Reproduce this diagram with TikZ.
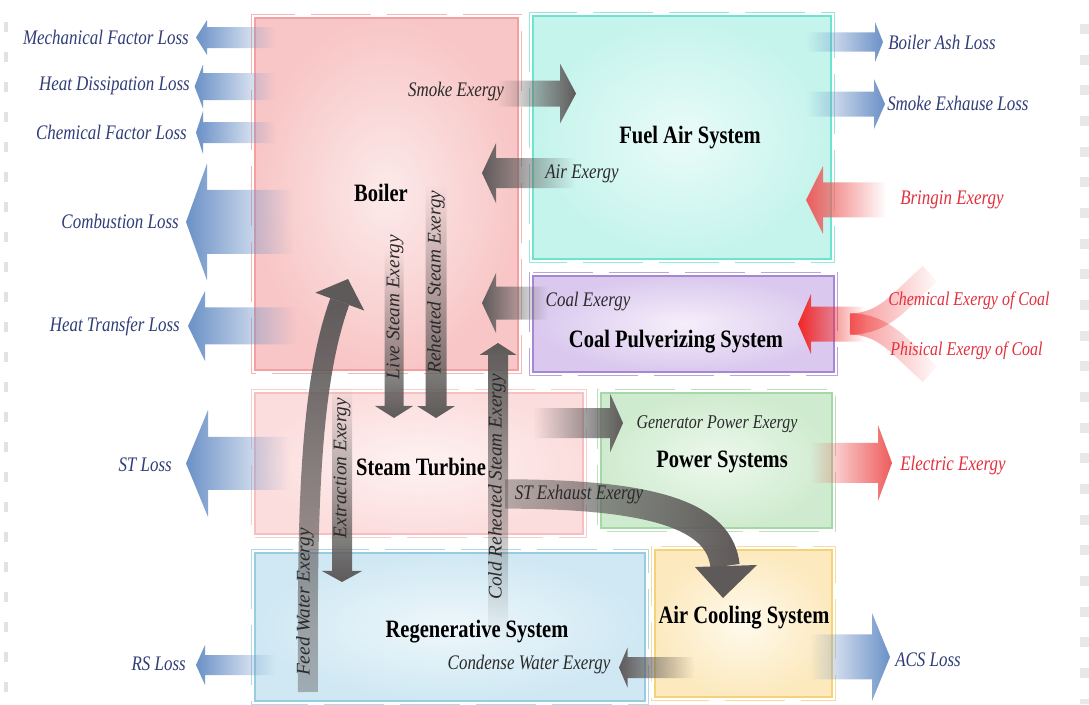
\documentclass[tikz,border=0pt]{standalone}
\usepackage{fontspec}
\setmainfont{Liberation Serif}
\newfontfamily\condserif[FakeStretch=0.82]{Liberation Serif}
\usetikzlibrary{fadings,fit}

\definecolor{lossblue}{HTML}{6B91C7}
\definecolor{losstext}{HTML}{303D78}
\definecolor{redtext}{HTML}{E2303E}
\definecolor{redarr}{HTML}{EE5C5C}
\definecolor{coalred}{HTML}{F02626}
\definecolor{grayarr}{HTML}{5E5A5A}
\definecolor{labeltext}{HTML}{2A2A2A}
\definecolor{edgeL}{HTML}{E2E2E2}
\definecolor{edgeR}{HTML}{E8E8E8}
% box colours
\definecolor{BoIn}{HTML}{FCEAEA}\definecolor{BoOut}{HTML}{F8C6C6}\definecolor{BoLine}{HTML}{F2A0A0}
\definecolor{FaIn}{HTML}{EAFBF8}\definecolor{FaOut}{HTML}{C4F4EC}\definecolor{FaLine}{HTML}{70E2D0}
\definecolor{CpIn}{HTML}{F5EFFA}\definecolor{CpOut}{HTML}{DAC8EE}\definecolor{CpLine}{HTML}{A588D2}
\definecolor{StIn}{HTML}{FEF2F2}\definecolor{StOut}{HTML}{FCDDDD}\definecolor{StLine}{HTML}{F6C0C0}
\definecolor{PsIn}{HTML}{EDF8ED}\definecolor{PsOut}{HTML}{CFEBCF}\definecolor{PsLine}{HTML}{A6D8A6}
\definecolor{RsIn}{HTML}{EEF7FB}\definecolor{RsOut}{HTML}{CFE8F3}\definecolor{RsLine}{HTML}{98CCE0}
\definecolor{AcIn}{HTML}{FFFAEC}\definecolor{AcOut}{HTML}{FCE9BE}\definecolor{AcLine}{HTML}{F3D27A}

\tikzfading[name=fadeR, left color=transparent!0, middle color=transparent!25, right color=transparent!100]
\tikzfading[name=fadeL, left color=transparent!100, middle color=transparent!25, right color=transparent!0]
\tikzfading[name=fadeBot, top color=transparent!100, middle color=transparent!25, bottom color=transparent!0]
\tikzfading[name=fadeTop, top color=transparent!0, middle color=transparent!30, bottom color=transparent!100]
\tikzfading[name=fadeTopSoft, top color=transparent!0, bottom color=transparent!60]
\tikzfading[name=fadeSoftL, left color=transparent!60, right color=transparent!0]
\tikzfading[name=fadeTail, left color=transparent!45, right color=transparent!100]

% #1 style, #2 tip x, #3 head base x, #4 tail x, #5 y, #6 shaft half, #7 head half
\newcommand\HArrow[7]{\path[#1] (#2,#5) -- (#3,#5-#7) -- (#3,#5-#6) -- (#4,#5-#6) -- (#4,#5+#6) -- (#3,#5+#6) -- (#3,#5+#7) -- cycle;}
% #1 style, #2 tip y, #3 head base y, #4 tail y, #5 x, #6 shaft half, #7 head half
\newcommand\VArrow[7]{\path[#1] (#5,#2) -- (#5-#7,#3) -- (#5-#6,#3) -- (#5-#6,#4) -- (#5+#6,#4) -- (#5+#6,#3) -- (#5+#7,#3) -- cycle;}
\newcommand\BoxRing[2]{\draw[draw=#2, line width=0.7pt, dash pattern=on 45pt off 12pt, opacity=.75] ([shift={(-3,-3)}]#1.north west) rectangle ([shift={(3,3)}]#1.south east);}

\begin{document}
\begin{tikzpicture}[x=0.75pt, y=-0.75pt,
  sysbox/.style n args={3}{rectangle, inner sep=0pt, inner color=#1, outer color=#2, draw=#3, line width=1pt},
  lossL/.style={fill=lossblue, path fading=fadeR, fit fading=true},
  lossR/.style={fill=lossblue, path fading=fadeL, fit fading=true},
  redL/.style={fill=redarr, path fading=fadeR, fit fading=true},
  redR/.style={fill=redarr, path fading=fadeL, fit fading=true},
  coalL/.style={fill=coalred, path fading=fadeR, fit fading=true},
  grayL/.style={fill=grayarr, path fading=fadeR, fit fading=true},
  grayR/.style={fill=grayarr, path fading=fadeL, fit fading=true},
  grayD/.style={fill=grayarr, path fading=fadeBot, fit fading=true},
  grayU/.style={fill=grayarr, path fading=fadeTop, fit fading=true},
  ttl/.style={font=\condserif\bfseries\fontsize{18.75}{22}\selectfont, inner sep=0pt, text=black},
  lbl/.style={font=\condserif\itshape\fontsize{15.5}{18}\selectfont, inner sep=0pt, text=labeltext},
  losslbl/.style={lbl, text=losstext},
  redlbl/.style={lbl, text=redtext},
  vlbl/.style={font=\itshape\fontsize{14.5}{17}\selectfont, inner sep=0pt, rotate=90, text=labeltext},
]
\useasboundingbox (0,0) rectangle (1089,704);
\fill[white] (0,0) rectangle (1089,704);

% edge marks
\draw[draw=edgeL, line width=3.5pt, dash pattern=on 7.5pt off 15pt] (6,22) -- (6,704);
\draw[draw=edgeR, line width=6.5pt, dash pattern=on 7.5pt off 15.5pt] (1084.5,24) -- (1084.5,704);

% ---- system boxes
\node[sysbox={BoIn}{BoOut}{BoLine}, fit={(255,18) (518,370)}] (boiler) {};
\node[sysbox={FaIn}{FaOut}{FaLine}, fit={(533,16) (831,259)}] (fuelair) {};
\node[sysbox={CpIn}{CpOut}{CpLine}, fit={(533,276) (834,372)}] (coalpulv) {};
\node[sysbox={StIn}{StOut}{StLine}, fit={(255,393) (583,534)}] (turbine) {};
\node[sysbox={PsIn}{PsOut}{PsLine}, fit={(601,393) (832,528)}] (power) {};
\node[sysbox={RsIn}{RsOut}{RsLine}, fit={(255,553) (645,701)}] (regen) {};
\node[sysbox={AcIn}{AcOut}{AcLine}, fit={(655,550) (832,697)}] (aircool) {};
\BoxRing{boiler}{BoLine}
\BoxRing{fuelair}{FaLine}
\BoxRing{coalpulv}{CpLine}
\BoxRing{turbine}{StLine}
\BoxRing{power}{PsLine}
\BoxRing{regen}{RsLine}
\BoxRing{aircool}{AcLine}

% ---- loss arrows (left)
\HArrow{lossL}{196}{207}{275}{37.5}{10.5}{17.5}
\HArrow{lossL}{194.6}{203}{275}{86.5}{13.5}{22}
\HArrow{lossL}{196}{203}{275}{132.5}{10.5}{21.5}
\HArrow{lossL}{186}{207}{293}{222}{32}{58.5}
\HArrow{lossL}{188}{205}{296}{326}{18.5}{35}
\HArrow{lossL}{186}{208}{289}{463.5}{26.5}{53.5}
\HArrow{lossL}{196}{205}{275}{665}{10}{20}

% ---- right side arrows
\HArrow{lossR}{883}{875}{806}{42}{9.5}{20}
\HArrow{lossR}{885}{874}{806}{104}{12.5}{25}
\HArrow{lossR}{890}{872}{810}{657}{22.5}{44}
\HArrow{redR}{892}{878}{810}{463}{20}{38}
\HArrow{redL}{806}{823}{886}{200}{17.5}{34}
% coal inputs
\draw[coalred, line width=16pt, path fading=fadeTail, fit fading=true] (850,324) .. controls (885,324) and (900,300) .. (930,274);
\draw[coalred, line width=16pt, path fading=fadeTail, fit fading=true] (850,324) .. controls (885,324) and (900,348) .. (930,374);
\HArrow{coalL}{798}{811}{865}{324}{17.5}{30}

% ---- internal gray arrows
\HArrow{grayR}{576}{560}{497}{93.5}{13}{30}
\HArrow{grayL}{482}{496}{575}{173}{15}{30}
\HArrow{grayL}{482}{496}{548}{303}{16.5}{30}
\HArrow{grayR}{623}{610}{533}{423}{15}{29.5}
\HArrow{grayL}{619}{627.5}{694}{667.5}{10.5}{20}
\VArrow{grayD}{418}{406}{250}{394}{9.5}{19}
\VArrow{grayD}{418}{406}{185}{436}{10.5}{19}
\VArrow{grayU}{343}{355}{640}{498}{10}{18.5}
\VArrow{grayD}{582}{571}{385}{342}{10}{20}
% feed water (curved)
\draw[grayarr, line width=15pt, path fading=fadeTopSoft, fit fading=true] (308,692) .. controls (307,520) and (309,386) .. (339.8,301.6);
\fill[grayarr] (348,279) -- (364.2,310.5) -- (315.4,292.7) -- cycle;
% ST exhaust (curved)
\draw[grayarr, line width=22pt, path fading=fadeSoftL, fit fading=true] (505,494) .. controls (660,494) and (720,518) .. (725,566);
\fill[grayarr] (723,598) -- (757,565) -- (695,567) -- cycle;

% ---- titles
\node[ttl] (tBoiler) at (381,193) {Boiler};
\node[ttl] (tFuel) at (690,138) {Fuel Air System};
\node[ttl] (tCoal) at (676,342) {Coal Pulverizing System};
\node[ttl] (tST) at (421,467) {Steam Turbine};
\node[ttl] (tPow) at (722,462) {Power Systems};
\node[ttl] (tReg) at (477,632) {Regenerative System};
\node[ttl] (tACS) at (744,618) {Air Cooling System};

% ---- loss labels
\node[losslbl, anchor=east] (lMech) at (189,37) {Mechanical Factor Loss};
\node[losslbl, anchor=east] (lHeat) at (190,86) {Heat Dissipation Loss};
\node[losslbl, anchor=east] (lChem) at (187,132) {Chemical Factor Loss};
\node[losslbl, anchor=east] (lComb) at (179,221) {Combustion Loss};
\node[losslbl, anchor=east] (lHT) at (180,326) {Heat Transfer Loss};
\node[losslbl, anchor=east] (lST) at (172,465) {ST Loss};
\node[losslbl, anchor=east] (lRS) at (186,664) {RS Loss};
\node[losslbl, anchor=west] (lAsh) at (888,42) {Boiler Ash Loss};
\node[losslbl, anchor=west] (lSmk) at (887,103) {Smoke Exhause Loss};
\node[losslbl, anchor=west] (lACS) at (895,660) {ACS Loss};
\node[redlbl, anchor=west] (lBring) at (900,200) {Bringin Exergy};
\node[redlbl, anchor=west, font=\condserif\itshape\fontsize{14.6}{17}\selectfont] (lChemC) at (888,301) {Chemical Exergy of Coal};
\node[redlbl, anchor=west, font=\condserif\itshape\fontsize{14.6}{17}\selectfont] (lPhysC) at (890,351) {Phisical Exergy of Coal};
\node[redlbl, anchor=west] (lElec) at (900,466) {Electric Exergy};

% ---- internal labels
\node[lbl] (lSmoke) at (456,92) {Smoke Exergy};
\node[lbl] (lAir) at (582,174) {Air Exergy};
\node[lbl] (lCoal) at (588,302) {Coal Exergy};
\node[lbl, font=\condserif\itshape\fontsize{14.6}{17}\selectfont] (lGen) at (717,424) {Generator Power Exergy};
\node[lbl] (lExh) at (579,495) {ST Exhaust Exergy};
\node[lbl] (lCond) at (529,665) {Condense Water Exergy};
\node[vlbl] (lLive) at (395,307) {Live Steam Exergy};
\node[vlbl] (lReh) at (436,282) {Reheated Steam Exergy};
\node[vlbl] (lCold) at (497,487) {Cold Reheated Steam Exergy};
\node[vlbl] (lExt) at (342,468) {Extraction Exergy};
\node[vlbl] (lFeed) at (305,602) {Feed Water Exergy};
\end{tikzpicture}
\end{document}
